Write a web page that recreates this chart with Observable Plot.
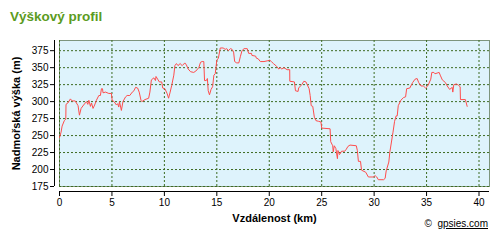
<!DOCTYPE html>
<html>
<head>
<meta charset="utf-8">
<script src="https://cdn.jsdelivr.net/npm/d3@7"></script>
<script src="https://cdn.jsdelivr.net/npm/@observablehq/plot@0.6"></script>
<style>
  html, body { margin: 0; padding: 0; background: #fff; }
  #wrap { position: relative; width: 498px; height: 240px; overflow: hidden; }
  #title { position: absolute; left: 10px; top: 10px; font: bold 13.5px "Liberation Sans", Arial, sans-serif; color: #5b9b22; line-height: 13px; white-space: nowrap; }
  #credit { position: absolute; right: 10px; top: 219px; font: 10px "Liberation Sans", Arial, sans-serif; color: #000; line-height: 10px; white-space: nowrap; }
  #credit u { text-decoration: underline; }
</style>
</head>
<body>
<div id="wrap">
  <div id="chart"></div>
  <div id="title">Výškový profil</div>
  <div id="credit">©&nbsp;&nbsp;<u>gpsies.com</u></div>
</div>
<script>
const xTicks = [0, 5, 10, 15, 20, 25, 30, 35, 40];
const yTicks = [175, 200, 225, 250, 275, 300, 325, 350, 375];
const xLabel = "Vzdálenost (km)";
const yLabel = "Nadmořská výška (m)";

const distanceKm = [
  0.0, 0.15, 0.25, 0.46, 0.6, 0.62, 0.8, 1.04, 1.2, 1.5, 1.77, 1.9, 2.06, 2.3, 2.57, 2.7, 2.8, 2.95, 3.05, 3.2,
  3.35, 3.52, 3.75, 3.9, 4.0, 4.1, 4.15, 4.4, 4.7, 4.95, 5.02, 5.2, 5.43, 5.55, 5.65, 5.72, 5.9, 6.05, 6.3, 6.45,
  6.7, 6.94, 7.1, 7.25, 7.45, 7.6, 7.77, 7.85, 8.15, 8.5, 8.62, 8.76, 9.0, 9.15, 9.2, 9.4, 9.52, 9.75, 9.84, 10.05,
  10.26, 10.4, 10.55, 10.7, 10.9, 11.0, 11.15, 11.3, 11.5, 11.7, 11.95, 12.1, 12.27, 12.5, 12.8, 13.0, 13.28, 13.45, 13.6, 13.76,
  13.83, 14.0, 14.1, 14.18, 14.3, 14.45, 14.6, 14.72, 14.85, 15.0, 15.15, 15.33, 15.6, 15.8, 15.95, 16.1, 16.3, 16.45, 16.6, 16.7,
  16.9, 17.1, 17.24, 17.4, 17.6, 17.9, 18.04, 18.3, 18.35, 18.7, 18.77, 18.95, 19.15, 19.5, 19.8, 20.05, 20.2, 20.4, 20.7, 20.9,
  21.05, 21.2, 21.4, 21.7, 21.95, 21.96, 22.4, 22.5, 22.75, 22.8, 23.1, 23.3, 23.5, 23.8, 23.9, 24.0, 24.15, 24.3, 24.45, 24.7,
  24.93, 25.0, 25.8, 25.86, 26.05, 26.1, 26.2, 26.35, 26.5, 26.55, 26.7, 26.9, 27.2, 27.35, 27.5, 27.7, 28.3, 28.4, 28.5, 28.7,
  28.8, 29.2, 29.45, 29.93, 30.1, 30.25, 30.4, 30.9, 31.05, 31.15, 31.4, 31.5, 31.8, 31.95, 32.1, 32.2, 32.3, 32.55, 32.8, 33.0,
  33.1, 33.4, 33.67, 33.9, 34.1, 34.25, 34.47, 34.7, 34.9, 35.05, 35.2, 35.4, 35.5, 35.7, 35.8, 36.0, 36.2, 36.3, 36.5, 36.8,
  36.97, 37.2, 37.45, 37.5, 37.6, 37.85, 38.05, 38.2, 38.23, 38.7, 38.87
];
const elevationM = [
  247, 255, 264, 272, 274, 296, 298, 304, 301, 301, 294, 280, 290, 295, 300, 296, 302, 293, 298, 290,
  295, 302, 309, 309, 319, 319, 313, 314, 312, 312, 302, 300, 295, 297, 292, 300, 287, 300, 307, 309,
  309, 314, 316, 321, 320, 314, 302, 300, 303, 305, 314, 332, 335, 331, 337, 332, 329, 329, 320, 319,
  312, 305, 314, 324, 339, 353, 356, 353, 356, 353, 357, 354, 348, 344, 343, 345, 350, 358, 359, 359,
  331, 331, 334, 316, 310, 318, 322, 339, 341, 361, 364, 379, 379, 377, 378, 375, 378, 377, 373, 359,
  357, 357, 366, 375, 378, 378, 371, 371, 368, 367, 364, 363, 359, 359, 360, 361, 359, 356, 352, 348,
  350, 348, 350, 347, 347, 330, 329, 316, 315, 320, 325, 330, 329, 319, 309, 294, 293, 277, 272, 271,
  270, 261, 260, 241, 235, 226, 235, 231, 216, 228, 222, 227, 227, 230, 234, 236, 235, 228, 212, 212,
  199, 196, 189, 189, 191, 189, 185, 185, 187, 198, 211, 226, 255, 271, 279, 279, 294, 302, 306, 307,
  319, 320, 328, 333, 334, 328, 323, 323, 320, 322, 326, 333, 343, 343, 341, 342, 343, 339, 332, 328,
  323, 318, 321, 314, 325, 326, 324, 322, 303, 303, 293
];

const profile = distanceKm.map((d, i) => ({km: d, elev: elevationM[i]}));

const gridStyle = {stroke: "#3d6b22", strokeOpacity: 1, strokeDasharray: "2,2", strokeWidth: 1};

const chart = Plot.plot({
  width: 498,
  height: 240,
  marginLeft: 59,
  marginRight: 9,
  marginTop: 40,
  marginBottom: 54,
  x: {domain: [0, 41]},
  y: {domain: [175, 390]},
  style: {fontFamily: "'Liberation Sans', Arial, sans-serif", fontSize: "10px", color: "#000", background: "transparent", overflow: "visible"},
  marks: [
    Plot.frame({fill: "#def3fc", stroke: "#7d957d"}),
    Plot.gridX({ticks: xTicks, ...gridStyle}),
    Plot.gridY({ticks: yTicks, ...gridStyle}),
    Plot.line(profile, {x: "km", y: "elev", stroke: "#ff4c4c", strokeWidth: 1}),
    Plot.ruleY([175], {dy: 5, stroke: "#000"}),
    Plot.ruleX([0], {dx: -5, stroke: "#000"}),
    Plot.axisX({ticks: xTicks, dy: 5, tickSize: 5, tickPadding: 2, label: null, stroke: "#000"}),
    Plot.axisY({ticks: yTicks, dx: -5, tickSize: 4, tickPadding: 2, label: null, stroke: "#000"}),
    Plot.text([xLabel], {frameAnchor: "bottom", dy: 32, textAnchor: "middle", lineAnchor: "middle", fontWeight: "bold", fontSize: 11, fill: "#000"}),
    Plot.text([yLabel], {frameAnchor: "left", dx: -43, rotate: -90, textAnchor: "middle", lineAnchor: "middle", fontWeight: "bold", fontSize: 11, fill: "#000"})
  ]
});
document.getElementById("chart").appendChild(chart);
</script>
</body>
</html>
